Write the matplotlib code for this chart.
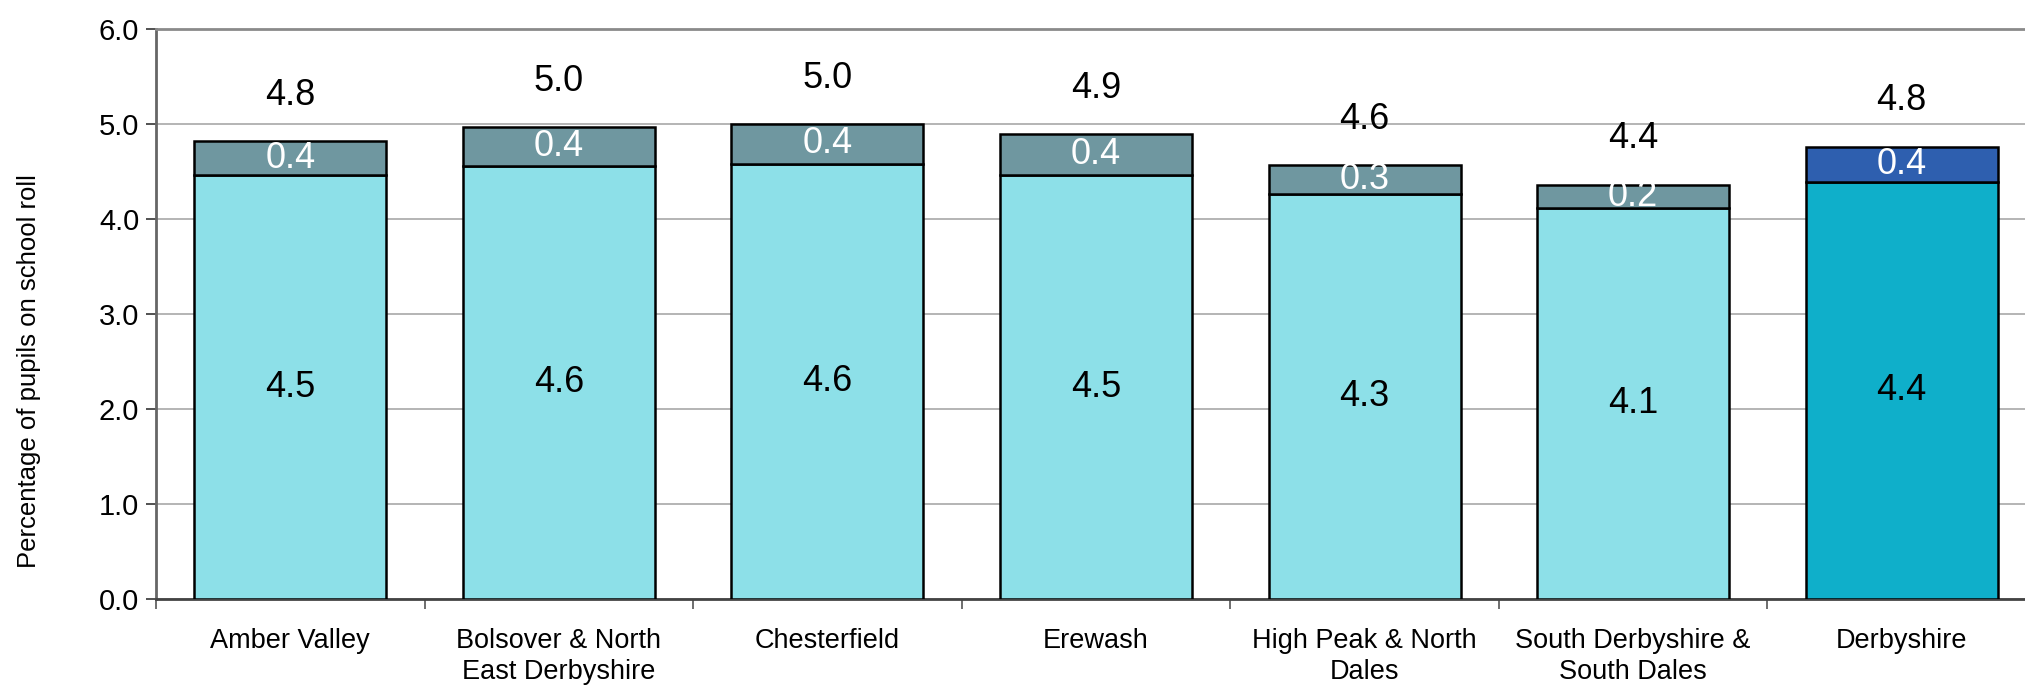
import matplotlib
matplotlib.use('Agg')
import matplotlib.pyplot as plt
import numpy as np

plt.rcParams['font.family'] = ['Liberation Sans', 'DejaVu Sans']

# data
areas = ['Amber Valley', 'Bolsover & North\nEast Derbyshire', 'Chesterfield', 'Erewash',
         'High Peak & North\nDales', 'South Derbyshire &\nSouth Dales', 'Derbyshire']
lower = [4.46, 4.56, 4.58, 4.46, 4.26, 4.12, 4.39]
upper = [0.36, 0.41, 0.42, 0.43, 0.31, 0.24, 0.37]
y_ticks = [0.0, 1.0, 2.0, 3.0, 4.0, 5.0, 6.0]

low_cols = ['#8DE0E8'] * 6 + ['#0FAFCA']
up_cols = ['#6F97A0'] * 6 + ['#2E5FAF']

fig = plt.figure(figsize=(20.25, 6.86), dpi=100)
ax = fig.add_axes([156 / 2025, 1 - 599 / 686, 1880 / 2025, 570 / 686])

x = np.arange(len(areas))
w = 0.715
b1 = ax.bar(x, lower, w, color=low_cols, edgecolor='black', linewidth=1.8, zorder=3)
b2 = ax.bar(x, upper, w, bottom=lower, color=up_cols, edgecolor='black', linewidth=1.8, zorder=3)

totals = np.array(lower) + np.array(upper)
for i in range(len(areas)):
    ax.text(x[i], lower[i] / 2, '%.1f' % lower[i], ha='center', va='center',
            fontsize=26, color='black', zorder=4)
    ax.text(x[i], lower[i] + upper[i] / 2, '%.1f' % upper[i], ha='center', va='center',
            fontsize=26, color='white', zorder=4)
    ax.annotate('%.1f' % totals[i], (x[i], totals[i]), xytext=(0, 33),
                textcoords='offset points', ha='center', va='center', fontsize=26)

ax.set_xlim(-0.5, len(areas) - 0.5)
ax.set_ylim(0, 6)
ax.set_yticks(y_ticks)
ax.set_yticklabels(['%.1f' % v for v in y_ticks], fontsize=21)
ax.yaxis.grid(True, color='#A8A8A8', linewidth=1.2, zorder=0)
ax.set_axisbelow(True)

ax.set_xticks(x)
ax.set_xticklabels(areas, fontsize=19.5, linespacing=1.25)
ax.tick_params(axis='x', which='major', length=0, pad=21)
ax.set_xticks(np.arange(-0.5, len(areas), 1.0), minor=True)
ax.tick_params(axis='x', which='minor', length=7, width=1.2, color='#555555')
ax.tick_params(axis='y', length=7, width=1.2, color='#333333', pad=5)

ax.set_ylabel('Percentage of pupils on school roll', fontsize=18.5)
ax.yaxis.set_label_coords(-0.061, 0.40)

ax.spines['right'].set_visible(False)
ax.spines['top'].set_color('#8A8A8A')
ax.spines['top'].set_linewidth(2)
ax.spines['left'].set_color('#666666')
ax.spines['left'].set_linewidth(2)
ax.spines['bottom'].set_color('#444444')
ax.spines['bottom'].set_linewidth(2)

fig.savefig('out.png', dpi=100)
